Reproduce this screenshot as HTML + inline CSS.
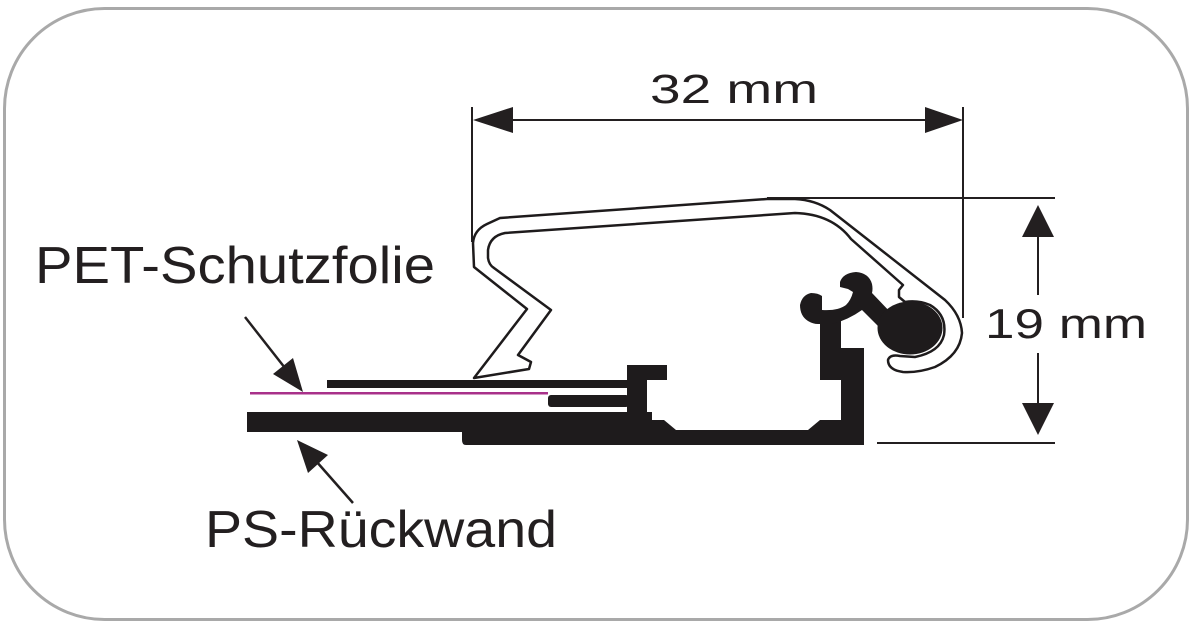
<!DOCTYPE html>
<html>
<head>
<meta charset="utf-8">
<style>
  html, body { margin: 0; padding: 0; background: #ffffff; }
  body { width: 1200px; height: 632px; overflow: hidden; }
  svg { display: block; }
  text { font-family: "Liberation Sans", "DejaVu Sans", sans-serif; fill: #231f20; }
</style>
</head>
<body>
<svg width="1200" height="632" viewBox="0 0 1200 632" xmlns="http://www.w3.org/2000/svg">
  <!-- rounded frame -->
  <rect x="4.5" y="8.5" width="1183" height="611" rx="100" ry="100" fill="#ffffff" stroke="#a9a9a9" stroke-width="3"/>

  <!-- top dimension -->
  <g stroke="#231f20" stroke-width="2" fill="none">
    <line x1="472" y1="107" x2="472" y2="242"/>
    <line x1="963" y1="107" x2="963" y2="318"/>
    <line x1="500" y1="120" x2="935" y2="120"/>
    <!-- extension lines -->
    <line x1="767" y1="198" x2="1055" y2="198"/>
    <line x1="877" y1="443" x2="1055" y2="443"/>
    <!-- vertical dimension -->
    <line x1="1038" y1="230" x2="1038" y2="295"/>
    <line x1="1038" y1="353" x2="1038" y2="410"/>
  </g>
  <g fill="#231f20">
    <polygon points="473,120 513,107 513,133"/>
    <polygon points="963,120 925,107 925,133"/>
    <polygon points="1038,205 1022,237 1054,237"/>
    <polygon points="1038,435 1022,403 1054,403"/>
  </g>
  <text x="650" y="103" font-size="41" textLength="168" lengthAdjust="spacingAndGlyphs">32 mm</text>
  <text x="985" y="338" font-size="42" textLength="162" lengthAdjust="spacingAndGlyphs">19 mm</text>

  <!-- labels -->
  <text x="35" y="283" font-size="52" textLength="400" lengthAdjust="spacingAndGlyphs">PET-Schutzfolie</text>
  <text x="205" y="547" font-size="52" textLength="352" lengthAdjust="spacingAndGlyphs">PS-Rückwand</text>

  <!-- label arrows -->
  <g stroke="#231f20" stroke-width="2.5">
    <line x1="245" y1="317" x2="285" y2="368"/>
    <line x1="353" y1="503" x2="316" y2="461"/>
  </g>
  <g fill="#231f20">
    <polygon points="303,392 273,374 293,358"/>
    <polygon points="297,440 328,455 308,473"/>
  </g>

  <!-- PET film (magenta) -->
  <rect x="250" y="392" width="298" height="2.5" fill="#a8318a"/>

  <!-- black bars -->
  <g fill="#1e1b1c">
    <rect x="327" y="380" width="302" height="8"/>
    <rect x="548" y="395" width="81" height="12" rx="3" ry="3"/>
    <rect x="247" y="412" width="405" height="20"/>
    <!-- profile base -->
    <path d="M627,365 L667,365 L667,380 L647,380 L647,420 L664,420 L676,430 L808,430 L820,420 L841,420 L841,380 L820,380 L820,318 L841,318 L841,348 L864,348 L864,445 L466,445 Q462,445 462,440 L462,432 L627,432 Z"/>
  </g>

  <!-- clip profile (white band with double outline) -->
  <path d="M474,378 L527,309 L474,267 L473,243 Q474,230 487,224 L500,218 L767,199 L795,199 Q815,200 830,210 L945,300 Q961,315 962,333 Q960,355 935,367 Q918,373 903,372 Q888,370 888,360 Q890,354 900,356 L915,357 Q940,352 944,335 Q947,315 930,305 Q918,300 905,302 L899,297 L899,290 L903,285 L851,239 Q832,214 795,213 L505,233 Q490,236 488,250 L488,258 Q489,265 494,268 L551,310 L518,355 L531,362 L529,369 Z"
        fill="#ffffff" stroke="#1e1b1c" stroke-width="2.5" stroke-linejoin="round"/>

  <!-- C hook, neck and ball -->
  <g fill="#1e1b1c">
    <path d="M811,293 Q802,295 800,305 Q800,316 808,321 Q813,324 818,324 L832,324 Q848,320 862,310 L880,328 L892,314 L872,293 Q873,289 872,284 Q869,273 856,272 Q843,273 840,282 L840,287 L848,289 L853,292 Q851,300 846,305 Q838,311 822,310 L822,296 Q818,293 811,293 Z"/>
    <ellipse cx="910" cy="328" rx="32.5" ry="26.5"/>
  </g>
</svg>
</body>
</html>
